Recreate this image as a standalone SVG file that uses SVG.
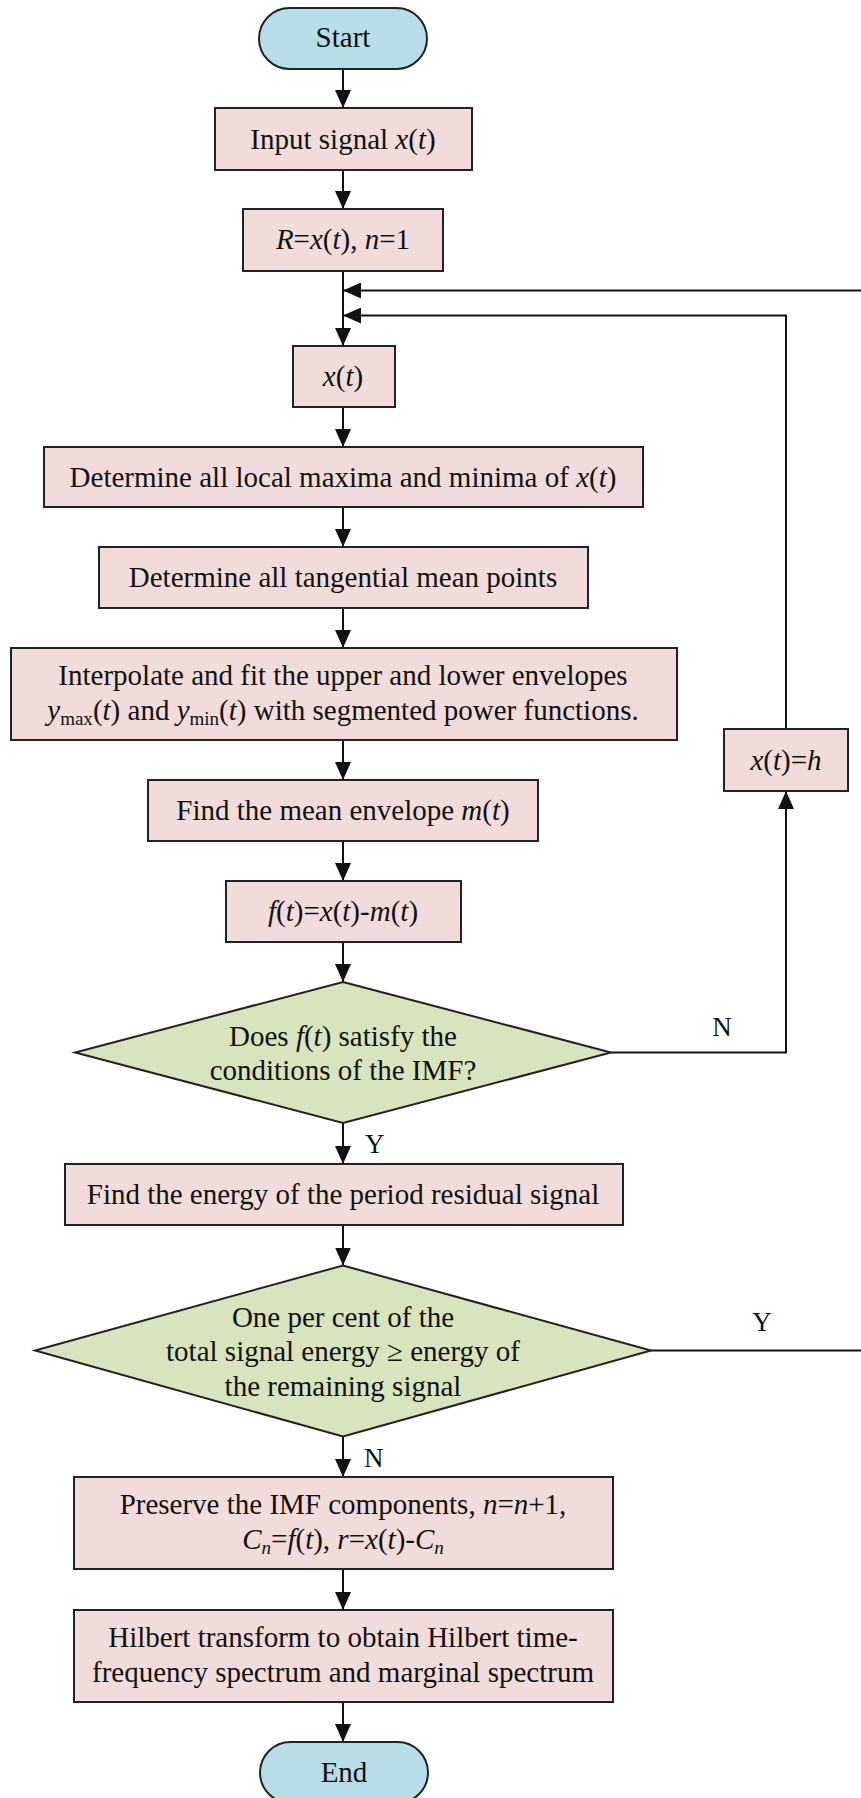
<svg xmlns="http://www.w3.org/2000/svg" width="861" height="1798" viewBox="0 0 861 1798">
<style>
  .box{fill:#f2dcdb;stroke:#222;stroke-width:2}
  .term{fill:#b7dde8;stroke:#222;stroke-width:2}
  .dec{fill:#d7e4bd;stroke:#222;stroke-width:2}
  .t{font-family:"Liberation Serif","Times New Roman",serif;font-size:29px;fill:#111;text-anchor:middle}
  .lbl{font-family:"Liberation Serif","Times New Roman",serif;font-size:27px;fill:#111}
  .i{font-style:italic}
  .sub{font-size:19px}
  .c{fill:none;stroke:#111;stroke-width:2}
</style>
<defs>
  <marker id="ah" markerUnits="userSpaceOnUse" markerWidth="18" markerHeight="16" refX="18" refY="8" orient="auto">
    <path d="M0,0 L18,8 L0,16 Z" fill="#111"/>
  </marker>
</defs>
<rect width="861" height="1798" fill="#fff"/>

<g id="connectors">
  <path class="c" d="M343,69 V108" marker-end="url(#ah)"/>
  <path class="c" d="M343,170 V209" marker-end="url(#ah)"/>
  <path class="c" d="M343,271 V346" marker-end="url(#ah)"/>
  <path class="c" d="M651,1350.5 H875 V290.5 H343" marker-end="url(#ah)"/>
  <path class="c" d="M786,729 V315.5 H343" marker-end="url(#ah)"/>
  <path class="c" d="M611,1052.5 H786 V791" marker-end="url(#ah)"/>
  <path class="c" d="M343,407 V447" marker-end="url(#ah)"/>
  <path class="c" d="M343,507 V547" marker-end="url(#ah)"/>
  <path class="c" d="M343,608 V648" marker-end="url(#ah)"/>
  <path class="c" d="M343,740 V780" marker-end="url(#ah)"/>
  <path class="c" d="M343,841 V881" marker-end="url(#ah)"/>
  <path class="c" d="M343,942 V982" marker-end="url(#ah)"/>
  <path class="c" d="M343,1123 V1164" marker-end="url(#ah)"/>
  <path class="c" d="M343,1225 V1265.5" marker-end="url(#ah)"/>
  <path class="c" d="M343,1436.5 V1477" marker-end="url(#ah)"/>
  <path class="c" d="M343,1569 V1610" marker-end="url(#ah)"/>
  <path class="c" d="M343,1702 V1742" marker-end="url(#ah)"/>
  <text class="lbl" x="722" y="1036" text-anchor="middle">N</text>
  <text class="lbl" x="365" y="1153">Y</text>
  <text class="lbl" x="762" y="1331" text-anchor="middle">Y</text>
  <text class="lbl" x="364" y="1467">N</text>
</g>

<g id="start">
  <rect class="term" x="259" y="8" width="168" height="61" rx="30.5"/>
  <text class="t" x="343" y="47">Start</text>
</g>

<g id="input">
  <rect class="box" x="215" y="108" width="257" height="62"/>
  <text class="t" x="343" y="149">Input signal <tspan class="i">x</tspan>(<tspan class="i">t</tspan>)</text>
</g>

<g id="init">
  <rect class="box" x="243" y="209" width="200" height="62"/>
  <text class="t" x="343" y="249"><tspan class="i">R</tspan>=<tspan class="i">x</tspan>(<tspan class="i">t</tspan>), <tspan class="i">n</tspan>=1</text>
</g>

<g id="xt">
  <rect class="box" x="293" y="346" width="102" height="61"/>
  <text class="t" x="343" y="386"><tspan class="i">x</tspan>(<tspan class="i">t</tspan>)</text>
</g>

<g id="extrema">
  <rect class="box" x="44" y="447" width="599" height="60"/>
  <text class="t" x="343" y="487">Determine all local maxima and minima of <tspan class="i">x</tspan>(<tspan class="i">t</tspan>)</text>
</g>

<g id="tangential">
  <rect class="box" x="99" y="547" width="489" height="61"/>
  <text class="t" x="343" y="587">Determine all tangential mean points</text>
</g>

<g id="interpolate">
  <rect class="box" x="11" y="648" width="666" height="92"/>
  <text class="t" x="343" y="685">Interpolate and fit the upper and lower envelopes</text>
  <text class="t" x="343" y="720"><tspan class="i">y</tspan><tspan class="sub" dy="5">max</tspan><tspan dy="-5">(</tspan><tspan class="i">t</tspan>) and <tspan class="i">y</tspan><tspan class="sub" dy="5">min</tspan><tspan dy="-5">(</tspan><tspan class="i">t</tspan>) with segmented power functions.</text>
</g>

<g id="mean">
  <rect class="box" x="148" y="780" width="390" height="61"/>
  <text class="t" x="343" y="820">Find the mean envelope <tspan class="i">m</tspan>(<tspan class="i">t</tspan>)</text>
</g>

<g id="ft">
  <rect class="box" x="226" y="881" width="235" height="61"/>
  <text class="t" x="343" y="921"><tspan class="i">f</tspan>(<tspan class="i">t</tspan>)=<tspan class="i">x</tspan>(<tspan class="i">t</tspan>)-<tspan class="i">m</tspan>(<tspan class="i">t</tspan>)</text>
</g>

<g id="imfcheck">
  <polygon class="dec" points="343,982 611,1052.5 343,1123 75,1052.5"/>
  <text class="t" x="343" y="1046">Does <tspan class="i">f</tspan>(<tspan class="i">t</tspan>) satisfy the</text>
  <text class="t" x="343" y="1080">conditions of the IMF?</text>
</g>

<g id="xh">
  <rect class="box" x="724" y="729" width="124" height="62"/>
  <text class="t" x="786" y="770"><tspan class="i">x</tspan>(<tspan class="i">t</tspan>)=<tspan class="i">h</tspan></text>
</g>

<g id="energy">
  <rect class="box" x="65" y="1164" width="558" height="61"/>
  <text class="t" x="343" y="1204">Find the energy of the period residual signal</text>
</g>

<g id="energycheck">
  <polygon class="dec" points="343,1265.5 651,1350.5 343,1436.5 35,1350.5"/>
  <text class="t" x="343" y="1327">One per cent of the</text>
  <text class="t" x="343" y="1361">total signal energy ≥ energy of</text>
  <text class="t" x="343" y="1396">the remaining signal</text>
</g>

<g id="preserve">
  <rect class="box" x="74" y="1477" width="539" height="92"/>
  <text class="t" x="343" y="1514">Preserve the IMF components, <tspan class="i">n</tspan>=<tspan class="i">n</tspan>+1,</text>
  <text class="t" x="343" y="1549"><tspan class="i">C</tspan><tspan class="i sub" dy="5">n</tspan><tspan dy="-5">=</tspan><tspan class="i">f</tspan>(<tspan class="i">t</tspan>), <tspan class="i">r</tspan>=<tspan class="i">x</tspan>(<tspan class="i">t</tspan>)-<tspan class="i">C</tspan><tspan class="i sub" dy="5">n</tspan></text>
</g>

<g id="hilbert">
  <rect class="box" x="74" y="1610" width="539" height="92"/>
  <text class="t" x="343" y="1647">Hilbert transform to obtain Hilbert time-</text>
  <text class="t" x="343" y="1682">frequency spectrum and marginal spectrum</text>
</g>

<g id="end">
  <rect class="term" x="260" y="1742" width="168" height="61" rx="30.5"/>
  <text class="t" x="344" y="1782">End</text>
</g>
</svg>
